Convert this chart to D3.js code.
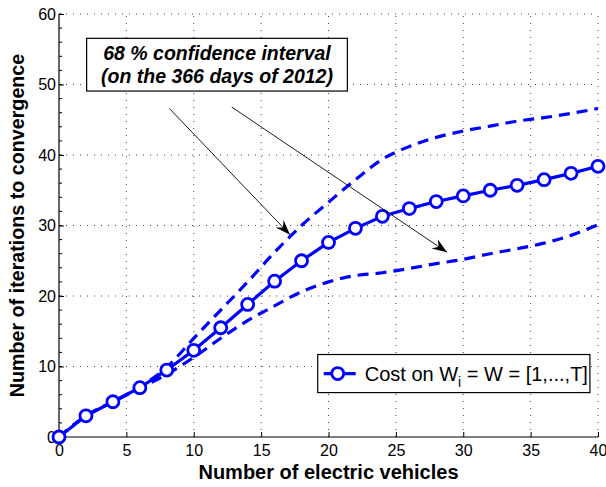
<!DOCTYPE html>
<html><head><meta charset="utf-8">
<script src="https://cdn.jsdelivr.net/npm/d3@7"></script>
<style>body{margin:0;background:#fff}svg{display:block}text{font-family:"Liberation Sans",Arial,sans-serif}</style>
</head><body><svg id="c" width="606" height="487"></svg>
<script>
// ---- data ----
const evCounts = [0,2,4,6,8,10,12,14,16,18,20,22,24,26,28,30,32,34,36,38,40];
const meanIter = [0,3,5,7,9.5,12.3,15.5,18.8,22.1,25,27.6,29.6,31.3,32.4,33.4,34.2,35,35.7,36.5,37.4,38.4];
const upperIter = [0,3,5,7.1,9.9,14.0,18.0,22.0,26.2,30.0,33.3,36.5,39.4,41.2,42.5,43.4,44.1,44.8,45.3,45.9,46.6];
const lowerIter = [0,3,5,6.9,8.9,11.3,14.0,16.5,18.6,20.6,22.0,22.9,23.3,23.9,24.6,25.2,26.0,26.7,27.5,28.6,30.1];
const xTicks = [0,5,10,15,20,25,30,35,40];
const yTicks = [0,10,20,30,40,50,60];
const legendLabel = ["Cost on W", "i", " = W = [1,...,T]"];
const noteLines = ["68 % confidence interval", "(on the 366 days of 2012)"];
const xLabel = "Number of electric vehicles";
const yLabel = "Number of iterations to convergence";

const svg = d3.select("#c");
const L = 59, R = 598, T = 14, B = 437;
const x = d3.scaleLinear().domain([0,40]).range([L,R]);
const y = d3.scaleLinear().domain([0,60]).range([B,T]);
const blue = "#0000ff";

// grid
const g = svg.append("g");
g.selectAll(".gx").data(xTicks.filter(d=>d>0)).join("line")
  .attr("x1",d=>x(d)).attr("x2",d=>x(d)).attr("y1",B).attr("y2",T)
  .attr("stroke","#444").attr("stroke-width",1).attr("stroke-dasharray","1,6");
g.selectAll(".gy").data(yTicks.filter(d=>d>0)).join("line")
  .attr("y1",d=>y(d)).attr("y2",d=>y(d)).attr("x1",L).attr("x2",R)
  .attr("stroke","#444").attr("stroke-width",1).attr("stroke-dasharray","1,6");

// axes
const xAxis = svg.append("g").attr("transform",`translate(0,${B})`)
  .call(d3.axisBottom(x).tickValues(xTicks).tickSize(-5).tickPadding(8));
const yAxis = svg.append("g").attr("transform",`translate(${L},0)`)
  .call(d3.axisLeft(y).tickValues(yTicks).tickSize(-5).tickPadding(3));
// minor y ticks
svg.append("g").selectAll("line").data(d3.range(0,61,2)).join("line")
  .attr("x1",L).attr("x2",L+3).attr("y1",d=>y(d)).attr("y2",d=>y(d))
  .attr("stroke","#000").attr("stroke-width",1);
[xAxis,yAxis].forEach(a=>{
  a.select(".domain").attr("stroke","#000").attr("stroke-width",1.2);
  a.selectAll(".tick line").attr("stroke","#000");
  a.selectAll("text").attr("font-size",16).attr("fill","#000")
   .style("font-family",'"Liberation Sans",Arial,sans-serif');
});
xAxis.select(".domain").attr("d",`M${L},0H${R}`);
yAxis.select(".domain").attr("d",`M0,${B}V${T}`);

// series
const lineStraight = d3.line().x((d,i)=>x(evCounts[i])).y(d=>y(d));
const lineSmooth = d3.line().x((d,i)=>x(evCounts[i])).y(d=>y(d)).curve(d3.curveMonotoneX);
[upperIter, lowerIter].forEach(s=>{
  svg.append("path").attr("d",lineSmooth(s)).attr("fill","none")
    .attr("stroke",blue).attr("stroke-width",3.2).attr("stroke-dasharray","11,7");
});
svg.append("path").attr("d",lineStraight(meanIter)).attr("fill","none")
  .attr("stroke",blue).attr("stroke-width",3.2);
svg.selectAll(".m").data(meanIter).join("circle")
  .attr("cx",(d,i)=>x(evCounts[i])).attr("cy",d=>y(d)).attr("r",6)
  .attr("fill","#fff").attr("stroke",blue).attr("stroke-width",2.8);

// annotation box
const nb = {x0:2.05, x1:21.4, y0:56.55, y1:49.07};
svg.append("rect").attr("x",x(nb.x0)).attr("y",y(nb.y0))
  .attr("width",x(nb.x1)-x(nb.x0)).attr("height",y(nb.y1)-y(nb.y0))
  .attr("fill","#fff").attr("stroke","#000").attr("stroke-width",1.2);
svg.selectAll(".nt").data(noteLines).join("text")
  .attr("x",(x(nb.x0)+x(nb.x1))/2).attr("y",(d,i)=>y(nb.y0)+22+i*23)
  .attr("text-anchor","middle").attr("font-size",19.5).attr("font-weight","bold")
  .attr("font-style","italic").text(d=>d);

// arrows
const defs = svg.append("defs");
defs.append("marker").attr("id","ah").attr("markerUnits","userSpaceOnUse")
  .attr("viewBox","-16 -6 17 12").attr("refX",0).attr("refY",0)
  .attr("markerWidth",17).attr("markerHeight",12).attr("orient","auto")
  .append("path").attr("d","M0,0L-15,-5.5L-10,0L-15,5.5Z").attr("fill","#000");
const arrows = [{x0:8.19,y0:46.6,x1:17.14,y1:28.7},{x0:12.82,y0:46.8,x1:28.8,y1:26.2}];
svg.selectAll(".ar").data(arrows).join("line")
  .attr("x1",d=>x(d.x0)).attr("y1",d=>y(d.y0)).attr("x2",d=>x(d.x1)).attr("y2",d=>y(d.y1))
  .attr("stroke","#000").attr("stroke-width",0.9).attr("marker-end","url(#ah)");

// legend
const lb = {x0:19.2, x1:39.4, y0:11.7, y1:6.3};
svg.append("rect").attr("x",x(lb.x0)).attr("y",y(lb.y0))
  .attr("width",x(lb.x1)-x(lb.x0)).attr("height",y(lb.y1)-y(lb.y0))
  .attr("fill","#fff").attr("stroke","#000").attr("stroke-width",1.2);
const ly = (y(lb.y0)+y(lb.y1))/2;
svg.append("line").attr("x1",x(lb.x0)+6).attr("x2",x(lb.x0)+38).attr("y1",ly).attr("y2",ly)
  .attr("stroke",blue).attr("stroke-width",3.2);
svg.append("circle").attr("cx",x(lb.x0)+20).attr("cy",ly).attr("r",6)
  .attr("fill","#fff").attr("stroke",blue).attr("stroke-width",2.8);
const lt = svg.append("text").attr("x",x(lb.x0)+47).attr("y",ly+7).attr("font-size",20);
lt.append("tspan").text(legendLabel[0]);
lt.append("tspan").attr("dy",6).attr("font-size",14).text(legendLabel[1]);
lt.append("tspan").attr("dy",-6).text(legendLabel[2]);

// axis labels
svg.append("text").attr("x",(L+R)/2).attr("y",479).attr("text-anchor","middle")
  .attr("font-size",20).attr("font-weight","bold").text(xLabel);
svg.append("text").attr("transform",`translate(24,${(T+B)/2}) rotate(-90)`)
  .attr("text-anchor","middle").attr("font-size",19.7).attr("font-weight","bold").text(yLabel);
</script></body></html>
